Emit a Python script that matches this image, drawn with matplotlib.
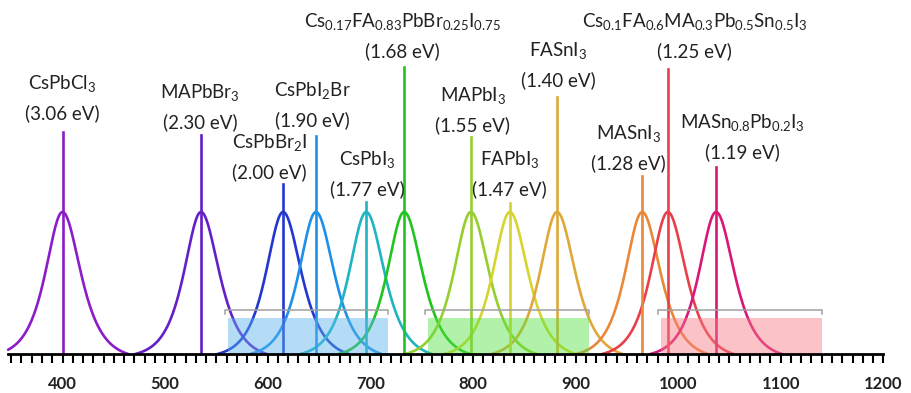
import numpy as np
import matplotlib
matplotlib.use('Agg')
import matplotlib.pyplot as plt
from matplotlib.patches import Rectangle

plt.rcParams['font.family'] = ['Lato', 'DejaVu Sans']
plt.rcParams['mathtext.fontset'] = 'custom'
plt.rcParams['mathtext.rm'] = 'Lato'
plt.rcParams['mathtext.it'] = 'Lato:italic'
plt.rcParams['mathtext.bf'] = 'Lato:bold'

# ---- data ----
names = [r'CsPbCl$_3$', r'MAPbBr$_3$', r'CsPbBr$_2$I', r'CsPbI$_2$Br', r'CsPbI$_3$',
         r'Cs$_{0.17}$FA$_{0.83}$PbBr$_{0.25}$I$_{0.75}$', r'MAPbI$_3$', r'FAPbI$_3$',
         r'FASnI$_3$', r'MASnI$_3$',
         r'Cs$_{0.1}$FA$_{0.6}$MA$_{0.3}$Pb$_{0.5}$Sn$_{0.5}$I$_3$',
         r'MASn$_{0.8}$Pb$_{0.2}$I$_3$']
bandgaps_eV = [3.06, 2.30, 2.00, 1.90, 1.77, 1.68, 1.55, 1.47, 1.40, 1.28, 1.25, 1.19]
peak_nm = [400, 535, 615, 647, 696, 733, 798, 836, 882, 965, 990, 1037]
line_top = [1.56, 1.54, 1.20, 1.535, 1.07, 2.02, 1.53, 1.065, 1.81, 1.25, 2.01, 1.32]
peak_height = 1.0
peak_fwhm_left_nm = 39
peak_fwhm_right_nm = 42
peak_foot_nm = 64
colors = ['#8C1CC8', '#6420C8', '#2436D0', '#1E90E8', '#1EB4C0', '#20C41E',
          '#96CE2E', '#D6D42E', '#E0A83A', '#E8883A', '#E8404A', '#D81878']

band_ranges = [(561, 717), (756, 913), (983, 1140)]
band_colors = ['#5AB2EE', '#55E040', '#F87A84']

x_ticks = [400, 500, 600, 700, 800, 900, 1000, 1100, 1200]

# ---- layout (label anchor positions) ----
label_x = [399.5, 534, 602, 644, 697.5, 731, 800, 836, 883, 952, 1016, 1063]
label_ev_y_px = [113, 122, 172, 120, 189, 51, 125, 189, 80, 163, 51, 152]

fig = plt.figure(figsize=(9.12, 3.93), dpi=100)
ax = fig.add_axes([0, 0, 1, 1])
PX = 142.0  # pixels per unit height
ax.set_xlim(400 - 62.5 / 1.026, 400 + (912 - 62.5) / 1.026)
ax.set_ylim(-(393 - 354) / PX, 354 / PX)


def profile(x, p):
    w = np.where(x < p, peak_fwhm_left_nm, peak_fwhm_right_nm) / 2 / np.arccosh(2.0)
    s = 1 / np.cosh((x - p) / w)
    s0 = 1 / np.cosh(peak_foot_nm / w)
    return peak_height * np.clip((s - s0) / (1 - s0), 0, None)


x = np.linspace(347, 1205, 5000)
for p, top, col in zip(peak_nm, line_top, colors):
    m = np.abs(x - p) <= peak_foot_nm
    ax.plot(x[m], profile(x[m], p), color=col, lw=1.9, zorder=2,
            solid_capstyle='round')
    ax.plot([p, p], [0, top], color=col, lw=1.9, zorder=2.5)

for (a, b), bc in zip(band_ranges, band_colors):
    ax.add_patch(Rectangle((a, 0.0), b - a, 0.255, facecolor=bc, alpha=0.45,
                           edgecolor='none', zorder=3))
    by = 0.31
    ax.plot([a - 3, a - 3, b, b], [by - 0.03, by, by, by - 0.03], color='#A0A0A0',
            lw=1.1, zorder=3)

for name, eg, lx, ly in zip(names, bandgaps_eV, label_x, label_ev_y_px):
    yd = (354 - ly) / PX
    ax.text(lx, yd, f'({eg:.2f} eV)', ha='center', va='center', fontsize=13.5,
            color='#222222', zorder=5)
    ax.text(lx, yd + 24 / PX, name, ha='center', va='baseline', fontsize=13.5,
            color='#222222', zorder=5)

for s in ['top', 'left', 'right']:
    ax.spines[s].set_visible(False)
ax.spines['bottom'].set_position(('data', 0))
ax.spines['bottom'].set_bounds(347, 1200)
ax.spines['bottom'].set_linewidth(2.0)
ax.spines['bottom'].set_zorder(4)
ax.set_yticks([])
ax.set_xticks(x_ticks)
ax.set_xticklabels([str(t) for t in x_ticks], fontsize=12, fontweight='bold',
                   color='#222222')
ax.set_xticks(np.arange(350, 1201, 10), minor=True)
ax.tick_params(axis='x', which='both', direction='out', length=6.5, width=1.5,
               color='black', pad=9)
ax.set_facecolor('white')
fig.savefig('out.png', dpi=100, facecolor='white')
